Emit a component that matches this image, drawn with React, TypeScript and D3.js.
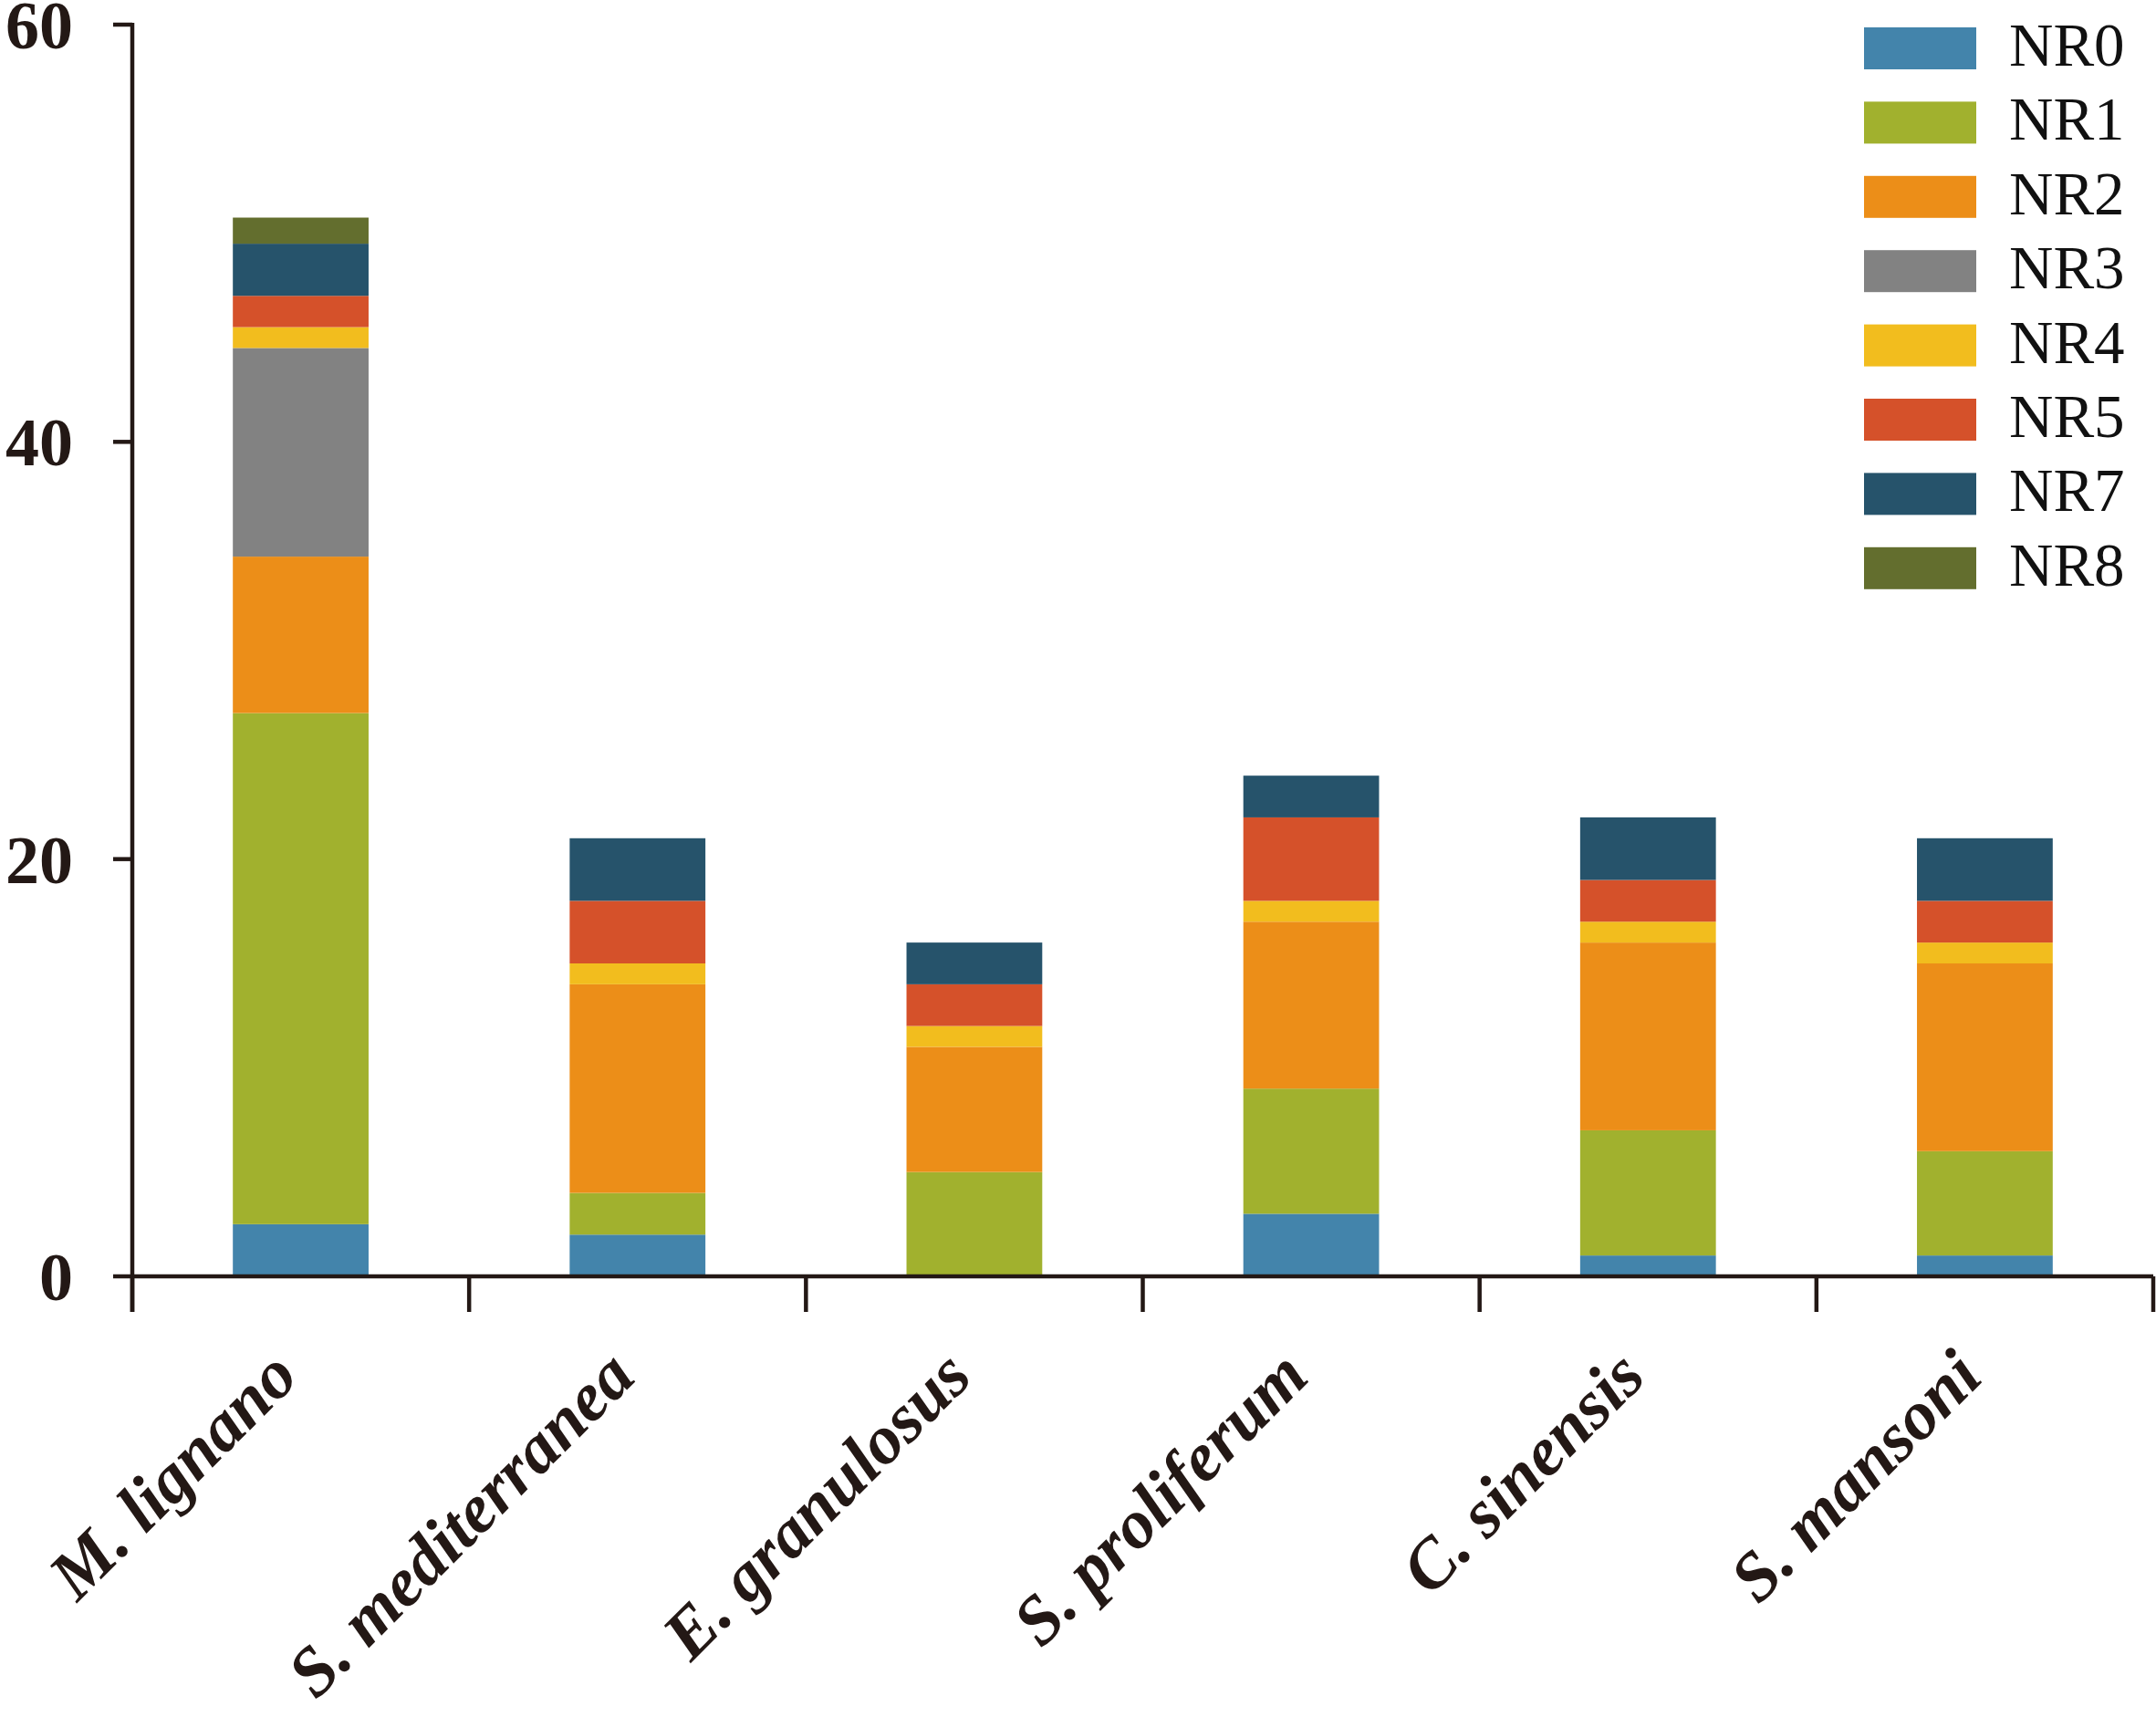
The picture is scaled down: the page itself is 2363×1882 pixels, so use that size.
import React from "react";
import * as d3 from "d3";

const categories = ["M. lignano", "S. mediterranea", "E. granulosus", "S. proliferum", "C. sinensis", "S. mansoni"];
const seriesNames = ["NR0", "NR1", "NR2", "NR3", "NR4", "NR5", "NR7", "NR8"];
const NR0 = [2.5, 2, 0, 3, 1, 1];
const NR1 = [24.5, 2, 5, 6, 6, 5];
const NR2 = [7.5, 10, 6, 8, 9, 9];
const NR3 = [10, 0, 0, 0, 0, 0];
const NR4 = [1, 1, 1, 1, 1, 1];
const NR5 = [1.5, 3, 2, 4, 2, 2];
const NR7 = [2.5, 3, 2, 2, 3, 3];
const NR8 = [1.25, 0, 0, 0, 0, 0];
const yTicks = [0, 20, 40, 60];
const colors = ["#4384AB", "#A1B12E", "#EC8E18", "#828282", "#F2BD1E", "#D5512A", "#26536B", "#636E2E"];

const seriesValues = [NR0, NR1, NR2, NR3, NR4, NR5, NR7, NR8];

const W = 2363;
const H = 1882;
const axisX0 = 145;
const axisX1 = 2360;
const axisY0 = 1399;
const axisYTop = 27;
const ink = "#231815";

export default function App() {
  const rows = categories.map((c, i) => {
    const r: any = { cat: c };
    seriesNames.forEach((s, k) => (r[s] = seriesValues[k][i]));
    return r;
  });
  const stack = d3.stack<any>().keys(seriesNames)(rows);
  const x = d3
    .scaleBand<string>()
    .domain(categories)
    .range([axisX0, axisX1])
    .paddingInner(0.597)
    .paddingOuter(0.2985);
  const y = d3.scaleLinear().domain([0, 60]).range([axisY0, axisYTop]);
  const step = x.step();

  return (
    <svg width={W} height={H} style={{ position: "absolute", left: 0, top: 0, background: "#fff" }}>
      {/* bars */}
      {stack.map((layer, k) => (
        <g key={layer.key} fill={colors[k]}>
          {layer.map((d, i) =>
            d[1] - d[0] > 0 ? (
              <rect
                key={i}
                x={x(categories[i])}
                width={x.bandwidth()}
                y={y(d[1])}
                height={y(d[0]) - y(d[1])}
              />
            ) : null
          )}
        </g>
      ))}
      {/* y axis */}
      <line x1={axisX0} x2={axisX0} y1={axisYTop - 2} y2={axisY0 + 39} stroke={ink} strokeWidth={4.5} />
      {yTicks.map((t) => (
        <g key={t}>
          <line x1={axisX0 - 21} x2={axisX0} y1={y(t)} y2={y(t)} stroke={ink} strokeWidth={4.5} />
          <text
            x={80}
            y={y(t) + 26}
            textAnchor="end"
            fontFamily="'Liberation Serif', 'Times New Roman', serif"
            fontWeight="bold"
            fontSize={74}
            fill={ink}
          >
            {t}
          </text>
        </g>
      ))}
      {/* x axis */}
      <line x1={axisX0} x2={axisX1} y1={axisY0} y2={axisY0} stroke={ink} strokeWidth={4.5} />
      {d3.range(categories.length + 1).map((i) => (
        <line
          key={i}
          x1={axisX0 + i * step}
          x2={axisX0 + i * step}
          y1={axisY0}
          y2={axisY0 + 39}
          stroke={ink}
          strokeWidth={4.5}
        />
      ))}
      {categories.map((c) => {
        const cx = (x(c) as number) + x.bandwidth() / 2;
        const cy = 1512;
        return (
          <text
            key={c}
            x={cx}
            y={cy}
            transform={`rotate(-45 ${cx} ${cy})`}
            textAnchor="end"
            fontFamily="'Liberation Serif', 'Times New Roman', serif"
            fontWeight="bold"
            fontStyle="italic"
            fontSize={76}
            fill={ink}
          >
            {c}
          </text>
        );
      })}
      {/* legend */}
      {seriesNames.map((s, k) => {
        const top = 30 + k * 81.4;
        return (
          <g key={s}>
            <rect x={2043} y={top} width={123} height={46} fill={colors[k]} />
            <text
              x={2202}
              y={top + 42}
              fontFamily="'Liberation Serif', 'Times New Roman', serif"
              fontSize={67}
              fill="#111"
            >
              {s}
            </text>
          </g>
        );
      })}
    </svg>
  );
}
